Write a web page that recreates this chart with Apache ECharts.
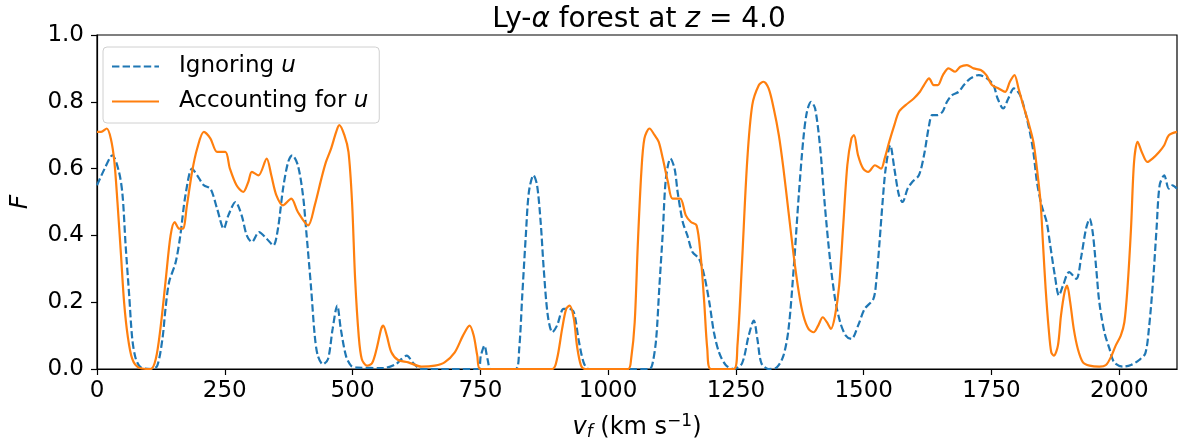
<!DOCTYPE html>
<html lang="en">
<head>
    <meta charset="UTF-8">
    <title>Ly-α forest</title>
    <script src="https://cdn.jsdelivr.net/npm/echarts@6/dist/echarts.min.js"></script>
    <style>
        html, body { margin: 0; padding: 0; background: #fff; }
    </style>
</head>
<body>

    <div id="main" style="width:1185px; height:446px;"></div>

    <script>
        // transmitted flux, velocity in km/s
        var ignoringV = [0, 15, 30, 43, 50, 56, 63, 69, 76, 86, 108, 118, 128, 134, 141, 154, 163, 173, 186, 196,
            209, 222, 235, 248, 257, 271, 283, 293, 303, 317, 332, 345, 354, 364, 374, 382, 393, 403, 409, 419,
            426, 432, 442, 452, 461, 470, 477, 487, 497, 510, 560, 585, 596, 606, 619, 635, 745, 751, 758, 764,
            771, 819, 826, 832, 839, 845, 854, 861, 868, 874, 882, 891, 900, 913, 924, 933, 942, 952, 962, 1081,
            1087, 1094, 1100, 1107, 1113, 1122, 1130, 1136, 1146, 1155, 1165, 1178, 1188, 1198, 1207, 1217, 1230, 1246, 1262, 1275,
            1285, 1292, 1300, 1314, 1330, 1343, 1353, 1363, 1373, 1382, 1389, 1397, 1405, 1415, 1424, 1434, 1444, 1454, 1465, 1476,
            1489, 1502, 1519, 1525, 1531, 1537, 1543, 1552, 1560, 1569, 1576, 1586, 1595, 1608, 1618, 1628, 1634, 1644, 1654, 1663,
            1673, 1686, 1696, 1709, 1725, 1741, 1754, 1762, 1773, 1783, 1794, 1806, 1816, 1825, 1832, 1839, 1848, 1858, 1865, 1874,
            1882, 1890, 1902, 1916, 1926, 1935, 1942, 1948, 1955, 1961, 1971, 1981, 1990, 2007, 2023, 2039, 2051, 2058, 2066, 2073,
            2079, 2088, 2097, 2104, 2113];
        var ignoringF = [0.55, 0.60, 0.64, 0.59, 0.52, 0.37, 0.22, 0.09, 0.03, 0.005, 0, 0.01, 0.09, 0.18, 0.26, 0.32, 0.40, 0.52, 0.60, 0.58,
            0.55, 0.54, 0.48, 0.42, 0.46, 0.50, 0.46, 0.40, 0.38, 0.41, 0.39, 0.37, 0.42, 0.54, 0.62, 0.64, 0.61, 0.52, 0.42, 0.24,
            0.10, 0.04, 0.014, 0.03, 0.12, 0.19, 0.12, 0.04, 0.01, 0.004, 0.003, 0.015, 0.03, 0.04, 0.017, 0, 0, 0.04, 0.07, 0.03,
            0, 0, 0.06, 0.22, 0.40, 0.53, 0.58, 0.55, 0.44, 0.30, 0.16, 0.11, 0.13, 0.18, 0.18, 0.17, 0.09, 0.02, 0, 0,
            0.017, 0.09, 0.24, 0.41, 0.57, 0.63, 0.60, 0.53, 0.44, 0.40, 0.35, 0.33, 0.28, 0.20, 0.11, 0.05, 0.012, 0, 0.017, 0.10,
            0.145, 0.09, 0.017, 0, 0.005, 0.04, 0.12, 0.30, 0.52, 0.69, 0.77, 0.80, 0.78, 0.66, 0.49, 0.33, 0.21, 0.14, 0.10, 0.09,
            0.13, 0.18, 0.21, 0.27, 0.38, 0.50, 0.60, 0.67, 0.60, 0.52, 0.50, 0.54, 0.56, 0.58, 0.64, 0.73, 0.76, 0.76, 0.77, 0.80,
            0.82, 0.83, 0.85, 0.87, 0.88, 0.87, 0.85, 0.81, 0.78, 0.81, 0.84, 0.82, 0.77, 0.71, 0.65, 0.56, 0.49, 0.44, 0.37, 0.28,
            0.22, 0.25, 0.29, 0.27, 0.34, 0.42, 0.45, 0.41, 0.30, 0.20, 0.11, 0.06, 0.02, 0.007, 0.012, 0.027, 0.047, 0.12, 0.26, 0.42,
            0.55, 0.58, 0.54, 0.55, 0.54];

        var accountingV = [0, 8, 19, 27, 34, 40, 47, 53, 60, 69, 82, 105, 115, 124, 134, 144, 152, 161, 168, 176,
            186, 196, 209, 222, 235, 251, 260, 273, 286, 296, 303, 316, 332, 341, 351, 364, 380, 393, 413, 426,
            439, 448, 458, 468, 474, 484, 492, 499, 505, 512, 518, 528, 538, 547, 556, 560, 567, 576, 589, 609,
            635, 661, 680, 700, 716, 729, 737, 744, 750, 891, 900, 910, 918, 925, 933, 939, 947, 955, 1039, 1045,
            1052, 1058, 1065, 1071, 1081, 1091, 1099, 1107, 1117, 1126, 1141, 1152, 1162, 1173, 1181, 1188, 1194, 1201, 1246, 1253,
            1262, 1272, 1282, 1295, 1304, 1314, 1324, 1334, 1343, 1353, 1363, 1373, 1382, 1392, 1402, 1411, 1420, 1428, 1436, 1444,
            1452, 1460, 1468, 1476, 1481, 1489, 1499, 1509, 1522, 1534, 1541, 1550, 1560, 1569, 1582, 1598, 1610, 1618, 1628, 1637,
            1645, 1655, 1666, 1679, 1689, 1702, 1715, 1729, 1740, 1751, 1764, 1777, 1786, 1795, 1803, 1812, 1822, 1832, 1839, 1846,
            1851, 1856, 1862, 1867, 1872, 1880, 1886, 1893, 1898, 1904, 1911, 1919, 1929, 1942, 1961, 1974, 1984, 1993, 2003, 2010,
            2016, 2023, 2029, 2036, 2044, 2055, 2065, 2078, 2088, 2097, 2113];
        var accountingF = [0.71, 0.71, 0.72, 0.69, 0.62, 0.50, 0.34, 0.20, 0.10, 0.03, 0.004, 0, 0.03, 0.12, 0.26, 0.40, 0.44, 0.42, 0.42, 0.49,
            0.59, 0.66, 0.71, 0.69, 0.65, 0.65, 0.60, 0.55, 0.53, 0.56, 0.59, 0.58, 0.63, 0.58, 0.52, 0.49, 0.51, 0.47, 0.43, 0.49,
            0.57, 0.62, 0.66, 0.71, 0.73, 0.70, 0.65, 0.50, 0.27, 0.10, 0.03, 0.01, 0.017, 0.06, 0.12, 0.13, 0.10, 0.05, 0.027, 0.02,
            0.007, 0.01, 0.02, 0.05, 0.10, 0.13, 0.10, 0.04, 0, 0, 0.03, 0.12, 0.18, 0.19, 0.15, 0.07, 0.01, 0, 0, 0.03,
            0.14, 0.37, 0.59, 0.69, 0.72, 0.70, 0.68, 0.63, 0.56, 0.51, 0.51, 0.46, 0.44, 0.43, 0.34, 0.20, 0.06, 0, 0, 0.07,
            0.32, 0.62, 0.79, 0.85, 0.86, 0.84, 0.78, 0.70, 0.60, 0.47, 0.34, 0.23, 0.16, 0.12, 0.11, 0.13, 0.155, 0.14, 0.12, 0.16,
            0.25, 0.43, 0.61, 0.69, 0.70, 0.64, 0.60, 0.59, 0.61, 0.60, 0.63, 0.68, 0.73, 0.77, 0.79, 0.81, 0.83, 0.85, 0.87, 0.85,
            0.85, 0.88, 0.90, 0.89, 0.905, 0.91, 0.90, 0.895, 0.88, 0.85, 0.84, 0.83, 0.86, 0.88, 0.84, 0.79, 0.74, 0.68, 0.60, 0.50,
            0.37, 0.24, 0.12, 0.05, 0.04, 0.07, 0.16, 0.23, 0.25, 0.20, 0.12, 0.06, 0.02, 0.01, 0.007, 0.012, 0.037, 0.07, 0.10, 0.14,
            0.24, 0.42, 0.62, 0.68, 0.65, 0.62, 0.63, 0.65, 0.67, 0.70, 0.71];

        var seriesNames = ['Ignoring u', 'Accounting for u'];
        var xTicks = [0, 250, 500, 750, 1000, 1250, 1500, 1750, 2000];
        var yTicks = [0.0, 0.2, 0.4, 0.6, 0.8, 1.0];

        function pairs(xs, ys) {
            return xs.map(function (x, i) { return [x, ys[i]]; });
        }

        var font = 'DejaVu Sans';
        var charts = echarts.init(document.getElementById('main'));

        var options = {
            animation: false,
            backgroundColor: '#fff',
            title: {
                text: '{n|Ly-}{i|α}{n| forest at }{i|z}{n| = 4.0}',
                left: 634,
                textAlign: 'center',
                top: 1,
                textStyle: {
                    fontWeight: 'normal',
                    rich: {
                        n: { fontFamily: font, fontSize: 28, fontWeight: 'normal', color: '#000' },
                        i: { fontFamily: font, fontSize: 28, fontWeight: 'normal', fontStyle: 'italic', color: '#000' }
                    }
                }
            },
            legend: {
                orient: 'vertical',
                left: 103,
                top: 47,
                padding: [8, 11, 10, 8],
                itemWidth: 47,
                itemHeight: 14,
                itemGap: 12,
                backgroundColor: '#fff',
                borderColor: '#d0d0d0',
                borderWidth: 1,
                borderRadius: 4,
                itemStyle: { opacity: 0 },
                data: seriesNames,
                formatter: function (name) {
                    return '{gap|}{n|' + name.slice(0, -1) + '}{i|u}';
                },
                textStyle: {
                    rich: {
                        gap: { width: 15 },
                        n: { fontFamily: font, fontSize: 23, color: '#000' },
                        i: { fontFamily: font, fontSize: 23, fontStyle: 'italic', color: '#000' }
                    }
                }
            },
            grid: {
                left: 91,
                right: 8,
                top: 35,
                bottom: 77,
                show: true,
                borderColor: '#000',
                borderWidth: 1.2
            },
            xAxis: {
                type: 'value',
                min: 0,
                max: 2113,
                interval: 250,
                name: '{i|v}{sub|f}{n| (km s}{sup|−1}{n|)}',
                nameLocation: 'middle',
                nameGap: 44,
                nameTextStyle: {
                    rich: {
                        n: { fontFamily: font, fontSize: 24, color: '#000' },
                        i: { fontFamily: font, fontSize: 24, fontStyle: 'italic', color: '#000' },
                        sub: { fontFamily: font, fontSize: 17, fontStyle: 'italic', color: '#000', padding: [10, 0, 0, 0] },
                        sup: { fontFamily: font, fontSize: 17, color: '#000', padding: [0, 0, 12, 0] }
                    }
                },
                axisLine: { lineStyle: { color: '#000', width: 1.2 } },
                axisTick: { length: 6, lineStyle: { color: '#000', width: 1.2 } },
                axisLabel: {
                    fontFamily: font,
                    fontSize: 23,
                    color: '#000',
                    margin: 11,
                    showMaxLabel: false,
                    formatter: function (v) { return xTicks.indexOf(v) >= 0 ? String(v) : ''; }
                },
                splitLine: { show: false }
            },
            yAxis: {
                type: 'value',
                min: 0,
                max: 1,
                interval: 0.2,
                name: 'F',
                nameLocation: 'middle',
                nameGap: 64,
                nameTextStyle: { fontFamily: font, fontSize: 25, fontStyle: 'italic', color: '#000' },
                axisLine: { show: true, lineStyle: { color: '#000', width: 1.2 } },
                axisTick: { show: true, length: 6, lineStyle: { color: '#000', width: 1.2 } },
                axisLabel: {
                    fontFamily: font,
                    fontSize: 23,
                    color: '#000',
                    margin: 13,
                    formatter: function (v) {
                        var t = yTicks.filter(function (y) { return Math.abs(y - v) < 1e-9; });
                        return t.length ? t[0].toFixed(1) : '';
                    }
                },
                splitLine: { show: false }
            },
            series: [{
                name: seriesNames[0],
                type: 'line',
                symbol: 'none',
                smooth: 0.3,
                lineStyle: { color: '#1f77b4', width: 2.2, type: [7.4, 3.2] },
                itemStyle: { color: '#1f77b4' },
                data: pairs(ignoringV, ignoringF)
            }, {
                name: seriesNames[1],
                type: 'line',
                symbol: 'none',
                smooth: 0.3,
                lineStyle: { color: '#ff7f0e', width: 2.2 },
                itemStyle: { color: '#ff7f0e' },
                data: pairs(accountingV, accountingF)
            }]
        };

        charts.setOption(options);
    </script>
</body>
</html>
